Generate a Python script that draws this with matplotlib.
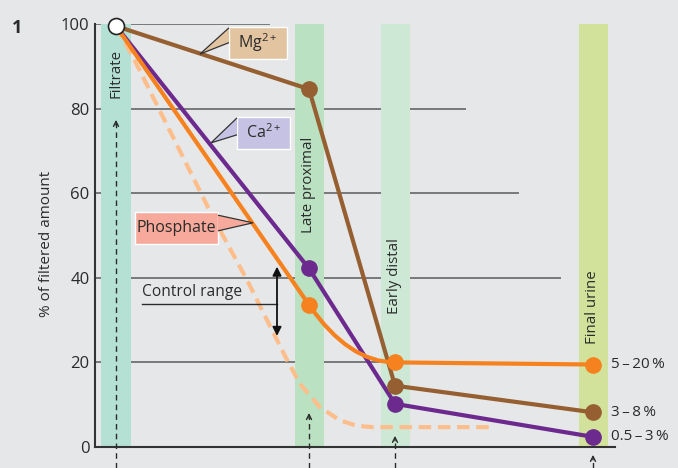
import matplotlib
matplotlib.use("Agg")
import matplotlib.pyplot as plt
from matplotlib.path import Path
from matplotlib.patches import PathPatch, Polygon, Rectangle

plt.rcParams['font.family'] = ['Open Sans', 'DejaVu Sans']
plt.rcParams['mathtext.fontset'] = 'custom'
plt.rcParams['mathtext.rm'] = 'Open Sans'
plt.rcParams['mathtext.it'] = 'Open Sans'

# nephron segments (position along the tubule, arbitrary units)
stages = ['Filtrate', 'Late proximal', 'Early distal', 'Final urine']
stage_x = [116, 309, 395, 593]
band_colors = ['#b4e1d4', '#bae1c1', '#cde9d6', '#d3e29a']

# % of filtered amount remaining
mg = [99.5, 84.6, 14.5, 8.2]
ca = [99.5, 42.2, 10.2, 2.4]
phosphate = [99.5, 33.6, 20.0, 19.5]

# phosphate without PTH (dashed curve)
phos_low_x = [116, 133, 213, 247, 267, 287, 300, 320, 340, 357, 372, 489]
phos_low_y = [99.5, 92.2, 54.3, 39.5, 30.0, 20.6, 14.9, 9.4, 6.3, 5.0, 4.7, 4.7]

final_labels = ['5\u2009–\u200920\u2009%', '3\u2009–\u20098\u2009%', '0.5\u2009–\u20093\u2009%']
yticks = [0, 20, 40, 60, 80, 100]

BG = '#e6e7e9'
BROWN = '#955f31'
ORANGE = '#f6821f'
PURPLE = '#6c2a8e'
LIGHT = '#fdbe8c'
TXT = '#2b2b2b'

fig = plt.figure(figsize=(6.78, 4.68), dpi=100, facecolor=BG)
ax = fig.add_axes([95/678, 21/468, 520/678, 423/468], facecolor=BG)
ax.set_xlim(95, 615)
ax.set_ylim(0, 100)

# partial grid lines
ax.hlines([20, 40, 60, 80, 100], 95, [380, 561, 519, 466, 270], color='#6f7072', lw=1.3, zorder=1)

# segment bands + labels
label_y = [88.3, 62, 40.5, 33]
for x, c, name, ly in zip(stage_x, band_colors, stages, label_y):
    ax.axvspan(x - 14.5, x + 14.5, color=c, lw=0, zorder=2)
    ax.text(x, ly, name, rotation=90, ha='center', va='center', fontsize=10.8, color=TXT, zorder=8)

# dashed arrows from below
arrow_tip = [78.0, 8.7, 3.3, -1.2]
for x, t in zip(stage_x, arrow_tip):
    ax.plot([x, x], [-5, t - 1.5], ls=(0, (4, 3)), lw=1, color=TXT, clip_on=False, zorder=3)
    ax.annotate('', xy=(x, t), xytext=(x, t - 2.5),
                arrowprops=dict(arrowstyle='->', lw=1, color=TXT, mutation_scale=9),
                annotation_clip=False, zorder=3)

# dashed light phosphate curve
ax.plot(phos_low_x, phos_low_y, ls=(0, (3, 1.6)), lw=3, color=LIGHT, zorder=3, solid_joinstyle='round')

# Mg and Ca
ax.plot(stage_x, mg, color=BROWN, lw=3, zorder=4)
ax.plot(stage_x, ca, color=PURPLE, lw=3, zorder=4)

# phosphate: straight, then smooth bend into the distal plateau
ax.plot(stage_x[:2], phosphate[:2], color=ORANGE, lw=3, zorder=4)
slope = (phosphate[1] - phosphate[0]) / (stage_x[1] - stage_x[0])
cx = stage_x[1] + (phosphate[2] - phosphate[1]) / slope
bend = Path([(stage_x[1], phosphate[1]), (cx, phosphate[2]), (stage_x[2], phosphate[2])],
            [Path.MOVETO, Path.CURVE3, Path.CURVE3])
ax.add_patch(PathPatch(bend, fc='none', ec=ORANGE, lw=3, zorder=4))
ax.plot(stage_x[2:], phosphate[2:], color=ORANGE, lw=3, zorder=4)

for vals, c in [(mg, BROWN), (ca, PURPLE), (phosphate, ORANGE)]:
    ax.plot(stage_x[1:], vals[1:], 'o', ms=11, color=c, zorder=5, clip_on=False)
ax.plot(stage_x[0], 99.5, 'o', ms=11.5, mfc='white', mec='#222222', mew=1.2, zorder=6, clip_on=False)

# right-hand labels
for v, lab in zip([phosphate[3], mg[3], ca[3]], final_labels):
    ax.text(611, v, lab, ha='left', va='center', fontsize=11, color=TXT, clip_on=False)

# callout boxes
def callout(x0, x1, y0, y1, tail, color, label):
    ax.add_patch(Rectangle((x0, y0), x1 - x0, y1 - y0, fc=color, ec='white', lw=1, zorder=7))
    ax.add_patch(Polygon(tail, closed=False, fc=color, ec='#333333', lw=0.9, zorder=7))
    ax.text((x0 + x1) / 2, (y0 + y1) / 2, label, ha='center', va='center', fontsize=11.5,
            color=TXT, zorder=8)

callout(229, 287, 91.7, 99.3, [(229, 99.1), (200, 92.9), (229, 95.6)], '#e2c4a0', r'Mg$^{\mathrm{2+}}$')
callout(237, 290, 70.4, 78.0, [(237, 77.8), (211, 71.9), (237, 73.8)], '#c5c2e3', r'Ca$^{\mathrm{2+}}$')
callout(135, 218, 48.0, 55.6, [(218, 54.8), (253, 53.0), (218, 51.1)], '#f7a99b', 'Phosphate')

# control range
ax.text(142, 36.6, 'Control range', ha='left', va='center', fontsize=11.2, color=TXT, zorder=8)
ax.plot([142, 277], [33.8, 33.8], color=TXT, lw=1, zorder=8)
ax.annotate('', xy=(277, 43.3), xytext=(277, 25.6),
            arrowprops=dict(arrowstyle='<|-|>', lw=1.3, color='#111111', mutation_scale=13), zorder=8)

# axes styling
for s in ['top', 'right']:
    ax.spines[s].set_visible(False)
ax.spines['left'].set_color('#333333')
ax.spines['bottom'].set_color('#333333')
ax.spines['left'].set_linewidth(1.5)
ax.spines['bottom'].set_linewidth(1.5)
ax.spines['left'].set_zorder(9)
ax.set_xticks([])
ax.set_yticks(yticks)
ax.tick_params(axis='y', length=0, pad=4, labelsize=12, labelcolor=TXT)

fig.text(47/678, 1 - 244/468, '% of filtered amount', rotation=90, ha='center', va='center',
         fontsize=11, color=TXT)
fig.text(17/678, 1 - 28/468, '1', ha='center', va='center', fontsize=13, fontweight='bold', color=TXT)

fig.savefig('out.png', dpi=100, facecolor=BG)
